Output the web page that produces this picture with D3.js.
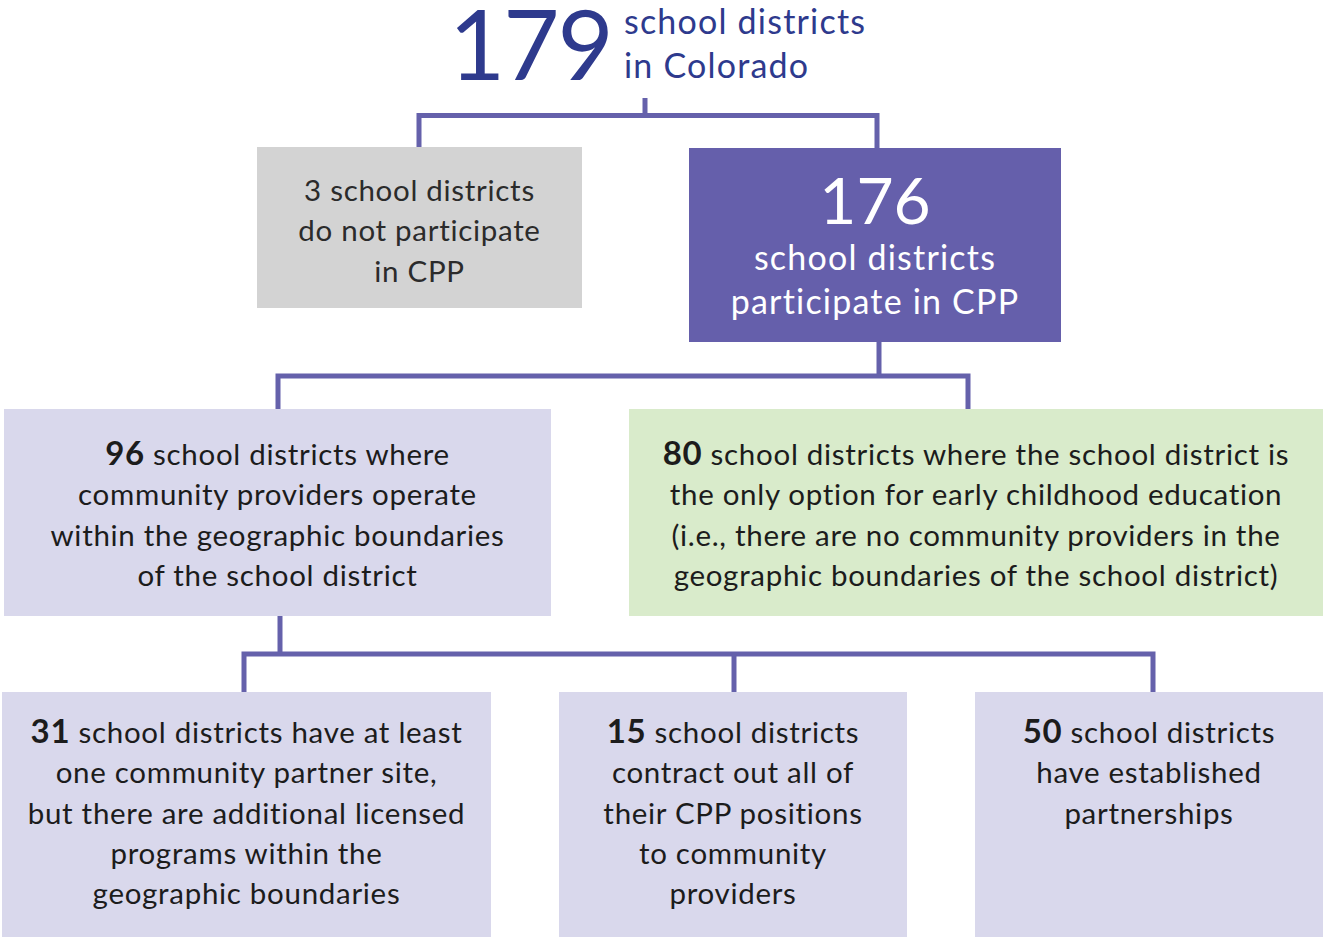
<!DOCTYPE html>
<html>
<head>
<meta charset="utf-8">
<script src="https://cdn.jsdelivr.net/npm/d3@7"></script>
<style>
  body { margin: 0; background: #fff; }
  svg { display: block; font-family: Lato, "Open Sans", sans-serif; }
</style>
</head>
<body>
<svg id="chart" width="1325" height="937"></svg>
<script>
// counts shown in each node
var totalDistricts = 179;
var nodeCounts = [3, 176, 96, 80, 31, 15, 50];

// text after the count, one entry per line
var nodeLines = [
    ["school districts", "do not participate", "in CPP"],
    ["school districts", "participate in CPP"],
    [" school districts where", "community providers operate", "within the geographic boundaries", "of the school district"],
    [" school districts where the school district is", "the only option for early childhood education", "(i.e., there are no community providers in the", "geographic boundaries of the school district)"],
    [" school districts have at least", "one community partner site,", "but there are additional licensed", "programs within the", "geographic boundaries"],
    [" school districts", "contract out all of", "their CPP positions", "to community", "providers"],
    [" school districts", "have established", "partnerships"]
];
var topLines = ["school districts", "in Colorado"];

// parent of each node (-1 = the 179 headline)
var parents = [-1, -1, 1, 1, 2, 2, 2];

// layout (pixel boxes)
var boxes = [
    { x: 257, y: 147, w: 325, h: 161, fill: "#d3d3d3", kind: "grey", first: 54 },
    { x: 689, y: 148, w: 372, h: 194, fill: "#655fab", kind: "big" },
    { x: 4, y: 409, w: 547, h: 207, fill: "#d9d8ec", kind: "bold", first: 56 },
    { x: 629, y: 409, w: 694, h: 207, fill: "#d9ebcb", kind: "bold", first: 56 },
    { x: 2, y: 692, w: 489, h: 245, fill: "#d9d8ec", kind: "bold", first: 51 },
    { x: 559, y: 692, w: 348, h: 245, fill: "#d9d8ec", kind: "bold", first: 51 },
    { x: 975, y: 692, w: 348, h: 245, fill: "#d9d8ec", kind: "bold", first: 51 }
];
// connector anchors
var childX = [419, 877, 278, 968, 244, 734, 1153];
var stemX = { "-1": 645, "1": 879, "2": 280 };
var barY = { "-1": 115.5, "1": 376, "2": 654 };
var stemTop = { "-1": 98, "1": 342, "2": 616 };

var lineColor = "#6561ab";
var svg = d3.select("#chart");

// connectors
var links = svg.append("g")
    .attr("fill", "none")
    .attr("stroke", lineColor)
    .attr("stroke-width", 5);

d3.group(parents.map((p, i) => ({ p: p, i: i })), d => d.p).forEach((kids, p) => {
    var xs = kids.map(k => childX[k.i]);
    var lo = d3.min(xs), hi = d3.max(xs);
    links.append("path")
        .attr("d", "M" + stemX[p] + "," + stemTop[p] + "V" + barY[p]);
    links.append("path")
        .attr("d", d3.line()([[lo, boxes[kids[0].i].y], [lo, barY[p]], [hi, barY[p]], [hi, boxes[kids[kids.length - 1].i].y]]))
        .attr("stroke-linejoin", "miter");
    // middle children hang straight off the bar
    kids.slice(1, -1).forEach(k => {
        links.append("path").attr("d", "M" + childX[k.i] + "," + barY[p] + "V" + boxes[k.i].y);
    });
});

// headline
var head = svg.append("g").attr("fill", "#2e3a8d");
head.append("text")
    .attr("x", 449).attr("y", 80)
    .attr("font-size", 97)
    .attr("letter-spacing", -2)
    .text(totalDistricts);
head.selectAll("text.sub")
    .data(topLines)
    .join("text")
    .attr("class", "sub")
    .attr("x", 624)
    .attr("y", (d, i) => 34 + i * 44)
    .attr("font-size", 34)
    .attr("letter-spacing", 1.2)
    .text(d => d);

// boxes
var nodes = svg.selectAll("g.node")
    .data(boxes)
    .join("g")
    .attr("class", "node");

nodes.append("rect")
    .attr("x", d => d.x).attr("y", d => d.y)
    .attr("width", d => d.w).attr("height", d => d.h)
    .attr("fill", d => d.fill);

nodes.each(function (b, i) {
    var g = d3.select(this);
    var cx = b.x + b.w / 2;
    if (b.kind === "big") {
        g.append("text")
            .attr("x", cx).attr("y", b.y + 76)
            .attr("text-anchor", "middle")
            .attr("fill", "#fff")
            .attr("font-size", 64)
            .text(nodeCounts[i]);
        nodeLines[i].forEach((t, j) => {
            g.append("text")
                .attr("x", cx).attr("y", b.y + 122 + j * 44)
                .attr("text-anchor", "middle")
                .attr("fill", "#fff")
                .attr("font-size", 34)
                .attr("letter-spacing", 1.2)
                .text(t);
        });
        return;
    }
    nodeLines[i].forEach((t, j) => {
        var txt = g.append("text")
            .attr("x", cx).attr("y", b.y + b.first + j * 40.3)
            .attr("text-anchor", "middle")
            .attr("fill", b.kind === "grey" ? "#2b2b2b" : "#1c1c1c")
            .attr("font-size", 29.5)
            .attr("letter-spacing", 0.7);
        if (j === 0) {
            if (b.kind === "grey") {
                txt.text(nodeCounts[i] + " " + t);
            } else {
                txt.append("tspan").attr("font-weight", "bold").attr("font-size", 33).text(nodeCounts[i]);
                txt.append("tspan").text(t);
            }
        } else {
            txt.text(t);
        }
    });
});
</script>
</body>
</html>
